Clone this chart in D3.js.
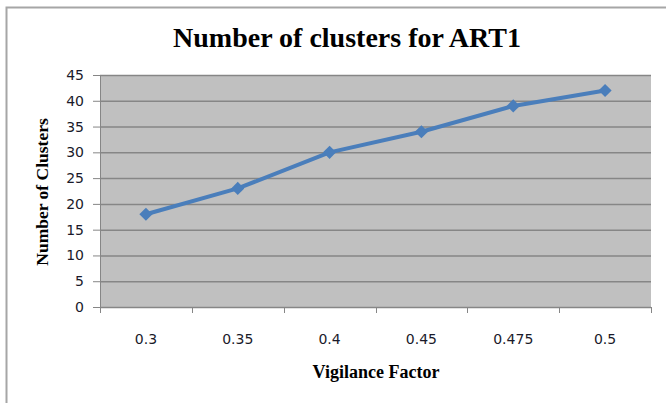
<!DOCTYPE html>
<html>
<head>
<meta charset="utf-8">
<script src="https://cdn.jsdelivr.net/npm/d3@7"></script>
<style>
  body { margin: 0; background: #fff; }
  svg { display: block; }
</style>
</head>
<body>
<div class="container"></div>
<script>
const categories = ["0.3", "0.35", "0.4", "0.45", "0.475", "0.5"];
const clusters = [18, 23, 30, 34, 39, 42];
const yTicks = [0, 5, 10, 15, 20, 25, 30, 35, 40, 45];

const W = 666, H = 403;
const margin = { top: 75, left: 100 },
    width = 651 - margin.left,
    height = 307 - margin.top;

const svg = d3.select(".container")
    .append("svg")
    .attr("width", W)
    .attr("height", H);

// outer chart border (only left/top visible in the picture)
svg.append("path")
    .attr("d", `M6.5,${H} L6.5,7.5 L${W},7.5`)
    .attr("fill", "none")
    .attr("stroke", "#a6a6a6")
    .attr("stroke-width", 2);

svg.append("text")
    .attr("x", 347)
    .attr("y", 47)
    .attr("text-anchor", "middle")
    .style("font-family", "'Liberation Serif', 'Times New Roman', serif")
    .style("font-weight", "bold")
    .style("font-size", "28px")
    .text("Number of clusters for ART1");

const g = svg.append("g")
    .attr("transform", `translate(${margin.left}, ${margin.top})`);

const x = d3.scaleBand()
    .domain(categories)
    .range([0, width]);

const y = d3.scaleLinear()
    .domain([0, 45])
    .range([height, 0]);

g.append("rect")
    .attr("width", width)
    .attr("height", height)
    .attr("fill", "#c0c0c0");

// gridlines
g.selectAll(".grid")
    .data(yTicks)
    .enter()
    .append("line")
    .attr("x1", 0)
    .attr("x2", width)
    .attr("y1", d => y(d) + 0.5)
    .attr("y2", d => y(d) + 0.5)
    .attr("stroke", "#868686")
    .attr("stroke-width", 1.5);

const tickFont = "'DejaVu Sans', Verdana, sans-serif";

const yAxis = d3.axisLeft(y).tickValues(yTicks).tickSize(7).tickPadding(9);
const yg = g.append("g").call(yAxis);
yg.select(".domain").attr("stroke", "#868686");
yg.selectAll(".tick line").attr("stroke", "#868686");
yg.selectAll("text")
    .attr("fill", "#1a1a2a")
    .style("font-family", tickFont)
    .style("font-size", "14px");

const xAxis = d3.axisBottom(x).tickSize(0).tickPadding(27);
const xg = g.append("g")
    .attr("transform", `translate(0, ${height})`)
    .call(xAxis);
xg.select(".domain").attr("stroke", "#868686");
xg.selectAll("text")
    .attr("fill", "#1a1a2a")
    .style("font-family", tickFont)
    .style("font-size", "14px");

// category boundary ticks
g.selectAll(".xtick")
    .data(d3.range(categories.length + 1))
    .enter()
    .append("line")
    .attr("x1", i => Math.round(i * x.step()) + 0.5)
    .attr("x2", i => Math.round(i * x.step()) + 0.5)
    .attr("y1", height)
    .attr("y2", height + 6)
    .attr("stroke", "#868686");

const line = d3.line()
    .x((d, i) => x(categories[i]) + x.bandwidth() / 2)
    .y(d => y(d));

g.append("path")
    .datum(clusters)
    .attr("fill", "none")
    .attr("stroke", "#4a7ebb")
    .attr("stroke-width", 4)
    .attr("stroke-linejoin", "round")
    .attr("d", line);

g.selectAll(".dot")
    .data(clusters)
    .enter()
    .append("path")
    .attr("class", "dot")
    .attr("d", d3.symbol().type(d3.symbolDiamond2).size(110))
    .attr("transform", (d, i) => `translate(${x(categories[i]) + x.bandwidth() / 2}, ${y(d)})`)
    .attr("fill", "#4a7ebb");

svg.append("text")
    .attr("transform", "translate(48, 192) rotate(-90)")
    .attr("text-anchor", "middle")
    .style("font-family", "'Liberation Serif', 'Times New Roman', serif")
    .style("font-weight", "bold")
    .style("font-size", "17.5px")
    .text("Number of Clusters");

svg.append("text")
    .attr("x", 376)
    .attr("y", 378)
    .attr("text-anchor", "middle")
    .style("font-family", "'Liberation Serif', 'Times New Roman', serif")
    .style("font-weight", "bold")
    .style("font-size", "18px")
    .text("Vigilance Factor");
</script>
</body>
</html>
